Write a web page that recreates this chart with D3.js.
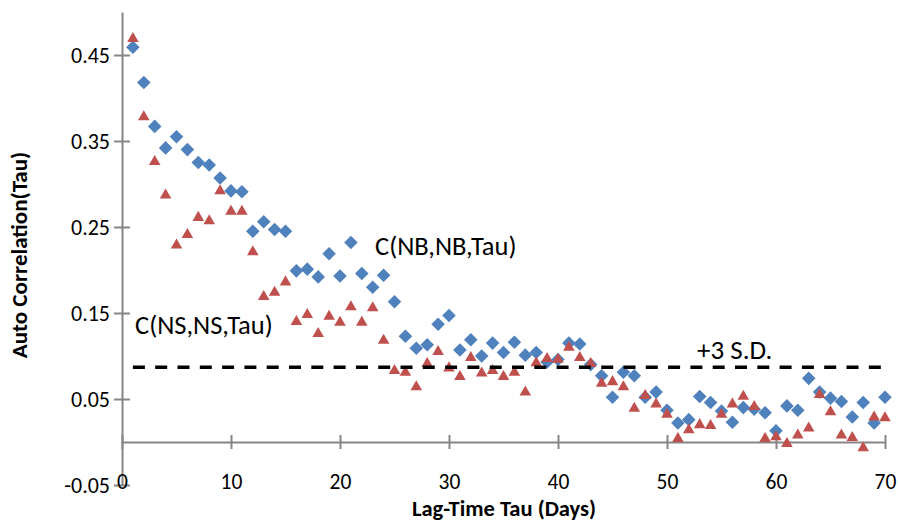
<!DOCTYPE html>
<html>
<head>
<meta charset="utf-8">
<script src="https://cdn.jsdelivr.net/npm/d3@7/dist/d3.min.js"></script>
<style>
  html, body { margin: 0; padding: 0; background: #fff; }
  svg { display: block; font-family: Carlito, Calibri, Lato, sans-serif; }
</style>
</head>
<body>
<div id="chart"></div>
<script>
// ---- data ----
const lags = d3.range(1, 71);
const nbValues = [
  0.459, 0.418, 0.367, 0.342, 0.355, 0.340, 0.325, 0.322, 0.307, 0.292,
  0.291, 0.245, 0.256, 0.247, 0.245, 0.199, 0.201, 0.192, 0.219, 0.193,
  0.232, 0.196, 0.180, 0.194, 0.163, 0.123, 0.109, 0.113, 0.137, 0.147,
  0.107, 0.119, 0.100, 0.115, 0.104, 0.116, 0.101, 0.104, 0.093, 0.096,
  0.115, 0.114, 0.090, 0.077, 0.052, 0.081, 0.077, 0.052, 0.058, 0.037,
  0.022, 0.026, 0.053, 0.046, 0.036, 0.023, 0.040, 0.038, 0.034, 0.013,
  0.042, 0.037, 0.074, 0.058, 0.051, 0.047, 0.029, 0.046, 0.022, 0.052
];
const nsValues = [
  0.469, 0.378, 0.326, 0.287, 0.229, 0.241, 0.261, 0.257, 0.292, 0.268,
  0.268, 0.221, 0.169, 0.174, 0.186, 0.140, 0.148, 0.126, 0.146, 0.139,
  0.157, 0.139, 0.156, 0.118, 0.083, 0.081, 0.064, 0.091, 0.105, 0.086,
  0.076, 0.098, 0.080, 0.083, 0.076, 0.081, 0.058, 0.092, 0.097, 0.096,
  0.110, 0.098, 0.091, 0.068, 0.070, 0.064, 0.039, 0.054, 0.044, 0.032,
  0.004, 0.014, 0.020, 0.019, 0.032, 0.044, 0.053, 0.041, 0.004, 0.006,
  -0.002, 0.008, 0.016, 0.055, 0.035, 0.008, 0.005, -0.007, 0.029, 0.028
];
const sdLevel = 0.087;
const sdRange = [1, 70];
const xTicks = [0, 10, 20, 30, 40, 50, 60, 70];
const yTicks = [-0.05, 0.05, 0.15, 0.25, 0.35, 0.45];
const yTickLabels = ["-0.05", "0.05", "0.15", "0.25", "0.35", "0.45"];
const xDomain = [0, 70];
const yDomain = [-0.05, 0.5];
const seriesLabels = { nb: "C(NB,NB,Tau)", ns: "C(NS,NS,Tau)", sd: "+3 S.D." };
const xTitle = "Lag-Time Tau (Days)";
const yTitle = "Auto Correlation(Tau)";

// ---- layout ----
const W = 898, H = 522;
const m = { left: 122, right: 13, top: 12, bottom: 37 };
const blue = "#4F81BD", red = "#C0504D", axisCol = "#868686";
const FONT = "Carlito, Calibri, Lato, sans-serif";

const svg = d3.select("#chart").append("svg").attr("width", W).attr("height", H);

const x = d3.scaleLinear().domain(xDomain).range([m.left, W - m.right]);
const y = d3.scaleLinear().domain(yDomain).range([H - m.bottom, m.top]);

// y axis
const yAxis = svg.append("g")
  .attr("transform", `translate(${m.left},0)`)
  .call(d3.axisLeft(y).tickValues(yTicks).tickSizeInner(8).tickSizeOuter(0)
        .tickPadding(4).tickFormat((d, i) => yTickLabels[i]));
yAxis.select(".domain").attr("stroke", axisCol).attr("stroke-width", 2);
yAxis.selectAll(".tick line").attr("x1", 8).attr("stroke", axisCol).attr("stroke-width", 2);
yAxis.selectAll(".tick text").attr("font-size", 22).attr("fill", "#000")
  .attr("font-family", FONT);

// x axis at y = 0
const xAxis = svg.append("g")
  .attr("transform", `translate(0,${y(0)})`)
  .call(d3.axisBottom(x).tickValues(xTicks).tickSizeInner(7).tickSizeOuter(0));
xAxis.select(".domain").attr("stroke", axisCol).attr("stroke-width", 2);
xAxis.selectAll(".tick line").attr("y1", -7).attr("stroke", axisCol).attr("stroke-width", 2);
xAxis.selectAll(".tick text").attr("font-size", 21.5).attr("fill", "#000")
  .attr("y", y(yDomain[0]) - y(0) - 11).attr("dy", "0.71em")
  .attr("font-family", FONT);

// series NB (diamonds)
const diamond = d3.symbol().type(d3.symbolSquare).size(92);
svg.append("g").selectAll("path").data(lags)
  .join("path")
  .attr("d", diamond)
  .attr("transform", (d, i) => `translate(${x(d)},${y(nbValues[i])}) rotate(45)`)
  .attr("fill", blue);

// series NS (triangles)
const tri = d3.symbol().type(d3.symbolTriangle).size(58);
svg.append("g").selectAll("path").data(lags)
  .join("path")
  .attr("d", tri)
  .attr("transform", (d, i) => `translate(${x(d)},${y(nsValues[i])})`)
  .attr("fill", red);

// +3 S.D. dashed line
svg.append("line")
  .attr("x1", x(sdRange[0])).attr("x2", x(sdRange[1]))
  .attr("y1", y(sdLevel)).attr("y2", y(sdLevel))
  .attr("stroke", "#000").attr("stroke-width", 3.5)
  .attr("stroke-dasharray", "12,10.3");

// series labels
const lab = svg.append("g").attr("font-size", 26.5).attr("fill", "#000");
lab.append("text").attr("x", 375).attr("y", 255).text(seriesLabels.nb);
lab.append("text").attr("x", 135).attr("y", 334).text(seriesLabels.ns);
lab.append("text").attr("x", 697).attr("y", 359).attr("font-size", 27).text(seriesLabels.sd);

// axis titles
svg.append("text")
  .attr("x", 504).attr("y", 516)
  .attr("text-anchor", "middle").attr("font-weight", "bold").attr("font-size", 22.5)
  .text(xTitle);
svg.append("text")
  .attr("transform", `translate(27,255) rotate(-90)`)
  .attr("text-anchor", "middle").attr("font-weight", "bold").attr("font-size", 23)
  .text(yTitle);
</script>
</body>
</html>
